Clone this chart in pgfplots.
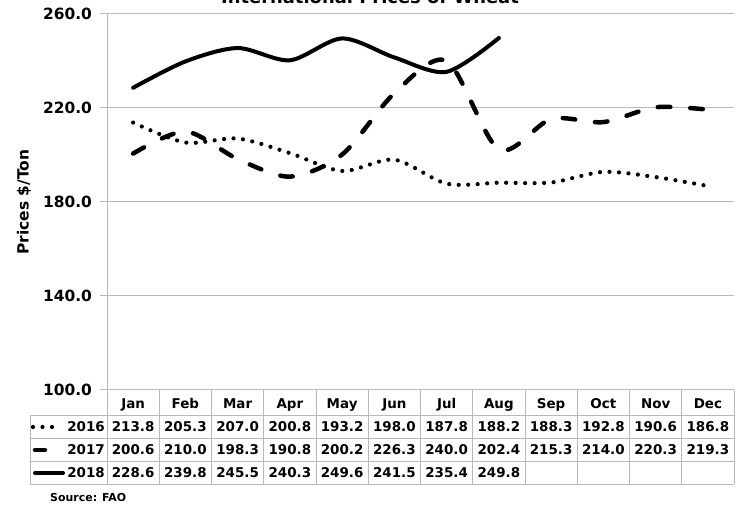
\documentclass[border=0pt]{standalone}
\usepackage{pgfplots}
\pgfplotsset{compat=1.18}
\usepackage{pgfplotstable}
\usepackage{fontspec}
\setmainfont{DejaVu Sans}
\definecolor{gridgray}{gray}{0.72}

% monthly prices, $/ton
\pgfplotstableread{
m  a      b
1  213.8  200.6
2  205.3  210.0
3  207.0  198.3
4  200.8  190.8
5  193.2  200.2
6  198.0  226.3
7  187.8  240.0
8  188.2  202.4
9  188.3  215.3
10 192.8  214.0
11 190.6  220.3
12 186.8  219.3
}\dataA
\pgfplotstableread{
m c
1 228.6
2 239.8
3 245.5
4 240.3
5 249.6
6 241.5
7 235.4
8 249.8
}\dataB

\newcommand{\tf}{\bfseries\fontsize{13.5}{14}\selectfont}
\tikzset{
  s16/.style={black, line width=4.2bp, line cap=round, dash pattern=on 0bp off 9.5bp},
  s17/.style={black, line width=4.5bp, line cap=round, line join=round, dash pattern=on 12.5bp off 20bp},
  s18/.style={black, line width=4bp, line cap=round, line join=round},
}

\begin{document}
\begin{tikzpicture}[x=1bp,y=1bp]
\useasboundingbox (0,0) rectangle (743,508);
\begin{axis}[
  at={(107bp,118bp)}, anchor=south west,
  scale only axis, width=627bp, height=376bp,
  xmin=0.5, xmax=12.5, ymin=100, ymax=260,
  axis lines=left, axis line style={-, gridgray, line width=1bp},
  xtick=\empty,
  ytick={100,140,180,220,260},
  yticklabels={100.0,140.0,180.0,220.0,260.0},
  yticklabel style={font=\bfseries\fontsize{15.5}{16}\selectfont, black, xshift=-4.5bp},
  tick align=outside, major tick length=7bp,
  tick style={gridgray, line width=1bp},
  ymajorgrids, grid style={gridgray, line width=1bp},
  clip=false,
]
\addplot[s16, smooth] table[x=m, y=a] {\dataA};
\addplot[s17, smooth] table[x=m, y=b] {\dataA};
\addplot[s18, smooth] table[x=m, y=c] {\dataB};
\end{axis}

% data table below the axis
\foreach \k in {0,...,12}
  \draw[gridgray, line width=1bp] ({107+52.25*\k},117.5) -- ({107+52.25*\k},23.5);
\foreach \yy in {92,69,46,23.5}
  \draw[gridgray, line width=1bp] (30,\yy) -- (734,\yy);
\draw[gridgray, line width=1bp] (30,92) -- (30,23.5);

\foreach \mn [count=\i from 0] in {Jan,Feb,Mar,Apr,May,Jun,Jul,Aug,Sep,Oct,Nov,Dec}
  \node[anchor=base, inner sep=0pt, font=\tf] at ({107+52.25*(\i+0.5)},99.5) {\mn};

\foreach \i in {0,...,11} {
  \pgfplotstablegetelem{\i}{a}\of\dataA
  \node[anchor=base, inner sep=0pt, font=\tf] at ({107+52.25*(\i+0.5)},76) {\pgfplotsretval};
  \pgfplotstablegetelem{\i}{b}\of\dataA
  \node[anchor=base, inner sep=0pt, font=\tf] at ({107+52.25*(\i+0.5)},53) {\pgfplotsretval};
}
\foreach \i in {0,...,7} {
  \pgfplotstablegetelem{\i}{c}\of\dataB
  \node[anchor=base, inner sep=0pt, font=\tf] at ({107+52.25*(\i+0.5)},30) {\pgfplotsretval};
}

% legend keys
\draw[s16] (33,81) -- (53.5,81);
\node[anchor=base east, inner sep=0pt, font=\tf] at (105,76) {2016};
\draw[s17, dash pattern=] (35,58) -- (45,58);
\node[anchor=base east, inner sep=0pt, font=\tf] at (105,53) {2017};
\draw[s18] (35,35) -- (63,35);
\node[anchor=base east, inner sep=0pt, font=\tf] at (105,30) {2018};

\node[rotate=90, font=\bfseries\fontsize{15.5}{16}\selectfont] at (24,306) {Prices \$/Ton};
\node[anchor=base, inner sep=0pt, font=\bfseries\fontsize{18}{18}\selectfont] at (370,504) {International Prices of Wheat};
\node[anchor=base west, inner sep=0pt, font=\bfseries\fontsize{11}{11}\selectfont] at (50,6) {Source: FAO};
\end{tikzpicture}
\end{document}
